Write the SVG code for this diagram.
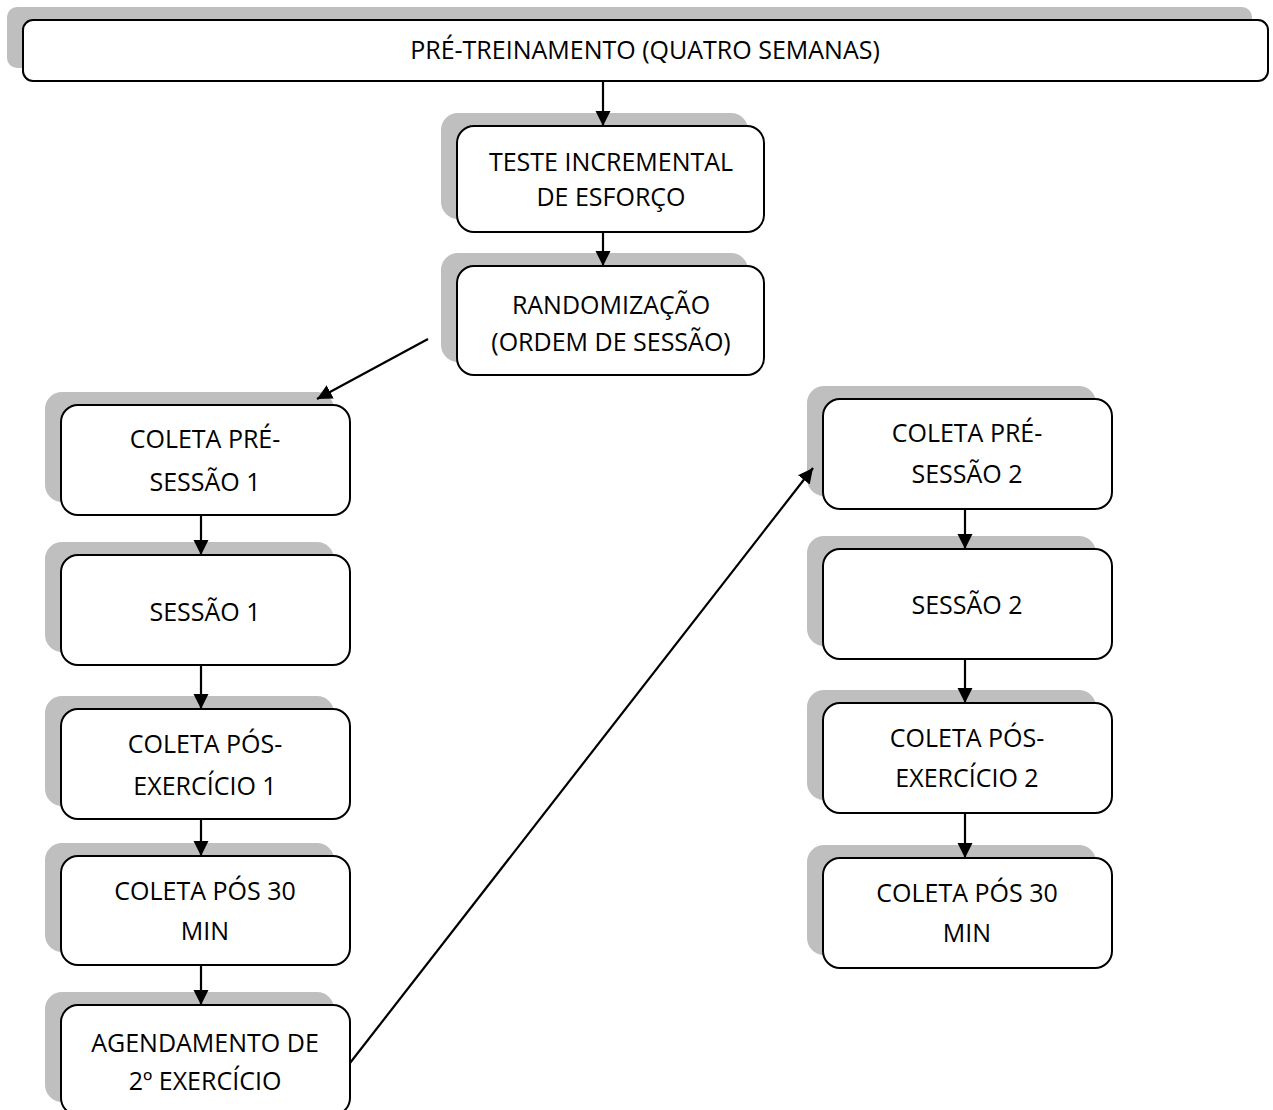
<svg xmlns="http://www.w3.org/2000/svg" width="1273" height="1110" viewBox="0 0 1273 1110">
<style>
.sh{fill:#bfbfbf;}
.bx{fill:#fff;stroke:#000;stroke-width:2;}
.t{font-family:"Open Sans","Liberation Sans",sans-serif;font-size:25px;fill:#000;text-anchor:middle;}
.c{stroke:#000;stroke-width:2.2;fill:none;marker-end:url(#ah);}
</style>
<defs>
<marker id="ah" markerUnits="userSpaceOnUse" markerWidth="17" markerHeight="16" refX="15" refY="7.5" orient="auto">
<path d="M0,0 L15,7.5 L0,15 z" fill="#000"/>
</marker>
</defs>
<rect width="1273" height="1110" fill="#fff"/>

<g id="n-pretreino">
<rect class="sh" x="7" y="7" width="1245" height="61" rx="10"/>
<rect class="bx" x="23" y="20" width="1245" height="61" rx="10"/>
<text class="t" x="645" y="59">PRÉ-TREINAMENTO (QUATRO SEMANAS)</text>
</g>

<g id="n-teste">
<rect class="sh" x="441" y="113" width="307" height="106" rx="17"/>
<rect class="bx" x="457" y="126" width="307" height="106" rx="17"/>
<text class="t" x="611" y="171">TESTE INCREMENTAL</text>
<text class="t" x="611" y="206">DE ESFORÇO</text>
</g>

<g id="n-random">
<rect class="sh" x="441" y="253" width="307" height="109" rx="17"/>
<rect class="bx" x="457" y="266" width="307" height="109" rx="17"/>
<text class="t" x="611" y="314">RANDOMIZAÇÃO</text>
<text class="t" x="611" y="351">(ORDEM DE SESSÃO)</text>
</g>

<g id="n-l1">
<rect class="sh" x="45" y="392" width="289" height="110" rx="17"/>
<rect class="bx" x="61" y="405" width="289" height="110" rx="17"/>
<text class="t" x="205" y="448">COLETA PRÉ-</text>
<text class="t" x="205" y="491">SESSÃO 1</text>
</g>

<g id="n-l2">
<rect class="sh" x="45" y="542" width="289" height="110" rx="17"/>
<rect class="bx" x="61" y="555" width="289" height="110" rx="17"/>
<text class="t" x="205" y="621">SESSÃO 1</text>
</g>

<g id="n-l3">
<rect class="sh" x="45" y="696" width="289" height="110" rx="17"/>
<rect class="bx" x="61" y="709" width="289" height="110" rx="17"/>
<text class="t" x="205" y="753">COLETA PÓS-</text>
<text class="t" x="205" y="795">EXERCÍCIO 1</text>
</g>

<g id="n-l4">
<rect class="sh" x="45" y="843" width="289" height="109" rx="17"/>
<rect class="bx" x="61" y="856" width="289" height="109" rx="17"/>
<text class="t" x="205" y="900">COLETA PÓS 30</text>
<text class="t" x="205" y="940">MIN</text>
</g>

<g id="n-l5">
<rect class="sh" x="45" y="992" width="289" height="110" rx="17"/>
<rect class="bx" x="61" y="1005" width="289" height="110" rx="17"/>
<text class="t" x="205" y="1052">AGENDAMENTO DE</text>
<text class="t" x="205" y="1090">2º EXERCÍCIO</text>
</g>

<g id="n-r1">
<rect class="sh" x="807" y="386" width="289" height="110" rx="17"/>
<rect class="bx" x="823" y="399" width="289" height="110" rx="17"/>
<text class="t" x="967" y="442">COLETA PRÉ-</text>
<text class="t" x="967" y="483">SESSÃO 2</text>
</g>

<g id="n-r2">
<rect class="sh" x="807" y="536" width="289" height="110" rx="17"/>
<rect class="bx" x="823" y="549" width="289" height="110" rx="17"/>
<text class="t" x="967" y="614">SESSÃO 2</text>
</g>

<g id="n-r3">
<rect class="sh" x="807" y="690" width="289" height="110" rx="17"/>
<rect class="bx" x="823" y="703" width="289" height="110" rx="17"/>
<text class="t" x="967" y="747">COLETA PÓS-</text>
<text class="t" x="967" y="787">EXERCÍCIO 2</text>
</g>

<g id="n-r4">
<rect class="sh" x="807" y="845" width="289" height="110" rx="17"/>
<rect class="bx" x="823" y="858" width="289" height="110" rx="17"/>
<text class="t" x="967" y="902">COLETA PÓS 30</text>
<text class="t" x="967" y="942">MIN</text>
</g>

<g id="connectors">
<line class="c" x1="603" y1="81" x2="603" y2="126"/>
<line class="c" x1="603" y1="232" x2="603" y2="266"/>
<line class="c" x1="428" y1="339" x2="317" y2="399"/>
<line class="c" x1="201" y1="515" x2="201" y2="555"/>
<line class="c" x1="201" y1="665" x2="201" y2="709"/>
<line class="c" x1="201" y1="819" x2="201" y2="856"/>
<line class="c" x1="201" y1="965" x2="201" y2="1005"/>
<line class="c" x1="350" y1="1063" x2="813" y2="468"/>
<line class="c" x1="965" y1="509" x2="965" y2="549"/>
<line class="c" x1="965" y1="659" x2="965" y2="703"/>
<line class="c" x1="965" y1="813" x2="965" y2="858"/>
</g>
</svg>
